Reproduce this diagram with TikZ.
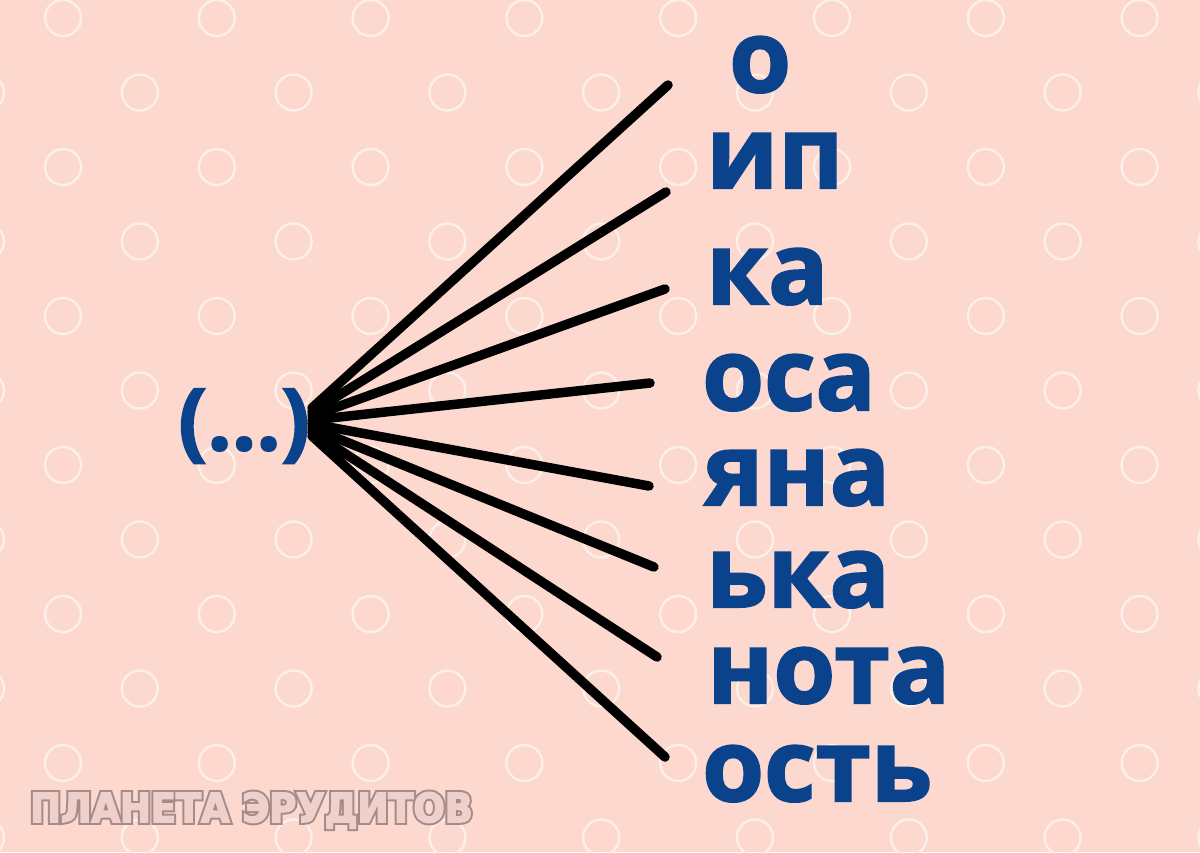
\documentclass[tikz,border=0pt]{standalone}
\usepackage{fontspec}
\setmainfont{Open Sans}
\newfontfamily\wmfont{DejaVu Sans}
\definecolor{bgpink}{RGB}{252,216,207}
\definecolor{ringc}{RGB}{253,240,233}
\definecolor{txtblue}{RGB}{11,66,140}
\definecolor{wmline}{RGB}{165,140,138}
\definecolor{wmfill}{RGB}{240,208,202}
\tikzset{
  ring/.style={draw=ringc,line width=2.4pt},
  word/.style={anchor=base west,inner sep=0pt,text=txtblue,font=\fontsize{100}{100}\selectfont\bfseries\addfontfeature{FakeBold=2}},
  spoke/.style={line width=9.5pt,line cap=round,draw=black},
}
\begin{document}
\begin{tikzpicture}[x=1pt,y=-1pt]
\fill[bgpink] (0,0) rectangle (1200,852);
\useasboundingbox (0,0) rectangle (1200,852);
% ring pattern
\foreach \k in {0,...,11}{
  \pgfmathsetmacro{\yy}{18+74.5*\k}
  \pgfmathsetmacro{\xo}{mod(\k,2)==0 ? 63 : -14}
  \foreach \j in {0,...,8}{
    \draw[ring] (\xo+153.8*\j,\yy) circle[radius=18];
  }
}
% source
\node[word,font=\fontsize{86}{86}\selectfont\bfseries\addfontfeature{FakeBold=2}] (src) at (178,450) {(...)};
% words
\node[word] (t1) at (729,92) {о};
\node[word] (t2) at (706,188) {ип};
\node[word] (t3) at (706,304) {ка};
\node[word] (t4) at (702,410) {оса};
\node[word] (t5) at (704,505) {яна};
\node[word] (t6) at (706,607) {ька};
\node[word] (t7) at (707,703) {нота};
\node[word] (t8) at (702,801) {ость};
% spoke ends
\coordinate (e1) at (668,85);
\coordinate (e2) at (666,192);
\coordinate (e3) at (665,289);
\coordinate (e4) at (650,383);
\coordinate (e5) at (649,486);
\coordinate (e6) at (654,567);
\coordinate (e7) at (657,657);
\coordinate (e8) at (665,757);
\coordinate (s1) at (312,408);
\coordinate (s2) at (312,412);
\coordinate (s3) at (312,416);
\coordinate (s4) at (312,420);
\coordinate (s5) at (312,424);
\coordinate (s6) at (312,428);
\coordinate (s7) at (312,432);
\coordinate (s8) at (312,436);
\foreach \i in {1,...,8}{\draw[spoke] (s\i) -- (e\i);}
% watermark
\node[anchor=base west,inner sep=0pt,text=wmline,font=\wmfont\fontsize{40}{40}\selectfont\bfseries\addfontfeature{FakeStretch=0.92,FakeBold=14}] (wm1) at (30,822) {ПЛАНЕТА ЭРУДИТОВ};
\node[anchor=base west,inner sep=0pt,text=wmfill,font=\wmfont\fontsize{40}{40}\selectfont\bfseries\addfontfeature{FakeStretch=0.92,FakeBold=4}] (wm2) at (30,822) {ПЛАНЕТА ЭРУДИТОВ};
\end{tikzpicture}
\end{document}
